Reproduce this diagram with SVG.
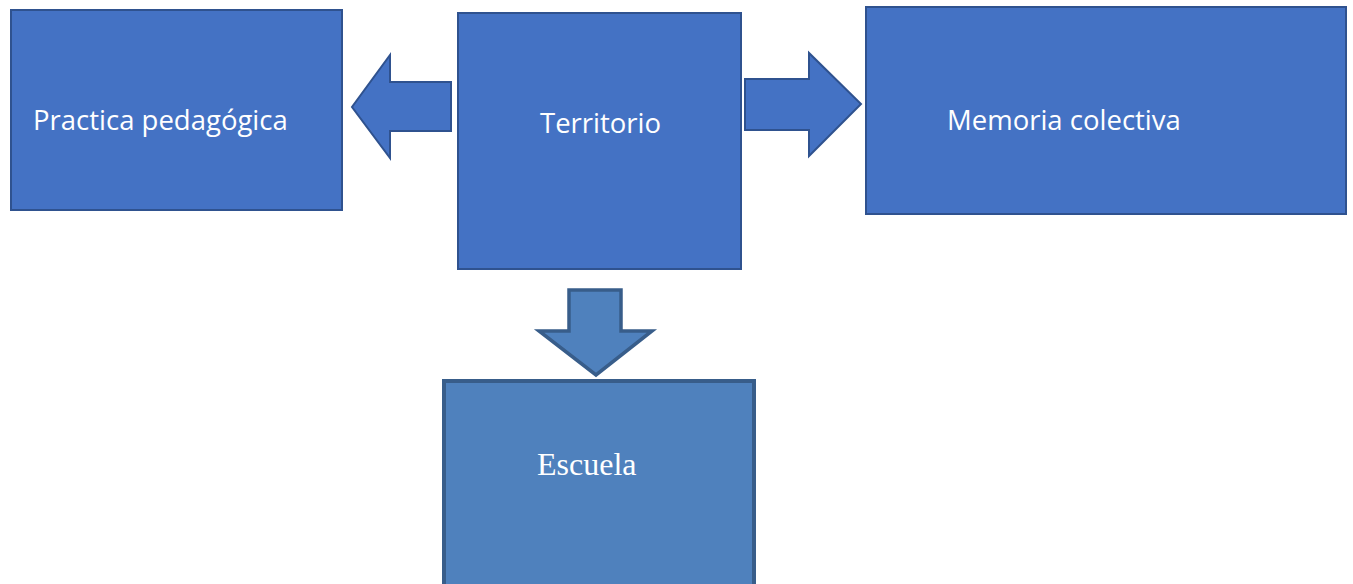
<svg xmlns="http://www.w3.org/2000/svg" width="1353" height="584" viewBox="0 0 1353 584">
<style>
.a{fill:#4472c4;stroke:#2f528f;stroke-width:2}
.b{fill:#4f81bd;stroke:#385d8a;stroke-width:4}
.t{fill:#fff;font-family:"Open Sans","Liberation Sans",sans-serif;font-size:27.5px}
.s{fill:#fff;font-family:"Liberation Serif",serif;font-size:32px}
</style>
<rect width="1353" height="584" fill="#fff"/>
<g id="connectors">
<polygon class="a" points="451,82 390,82 390,55 352,107 390,158 390,131 451,131"/>
<polygon class="a" points="745,79 809,79 809,53 861,104 809,156 809,130 745,130"/>
<polygon class="b" style="stroke-width:3.5" points="569,290 621,290 621,331 652,331 596,375 539,331 569,331"/>
</g>
<g id="practica">
<rect class="a" x="11" y="10" width="331" height="200"/>
<text class="t" x="33" y="130">Practica pedagógica</text>
</g>
<g id="territorio">
<rect class="a" x="458" y="13" width="283" height="256"/>
<text class="t" x="540" y="133">Territorio</text>
</g>
<g id="memoria">
<rect class="a" x="866" y="7" width="480" height="207"/>
<text class="t" x="947" y="130">Memoria colectiva</text>
</g>
<g id="escuela">
<rect class="b" x="444" y="381" width="310" height="210"/>
<text class="s" x="537" y="475">Escuela</text>
</g>
</svg>
